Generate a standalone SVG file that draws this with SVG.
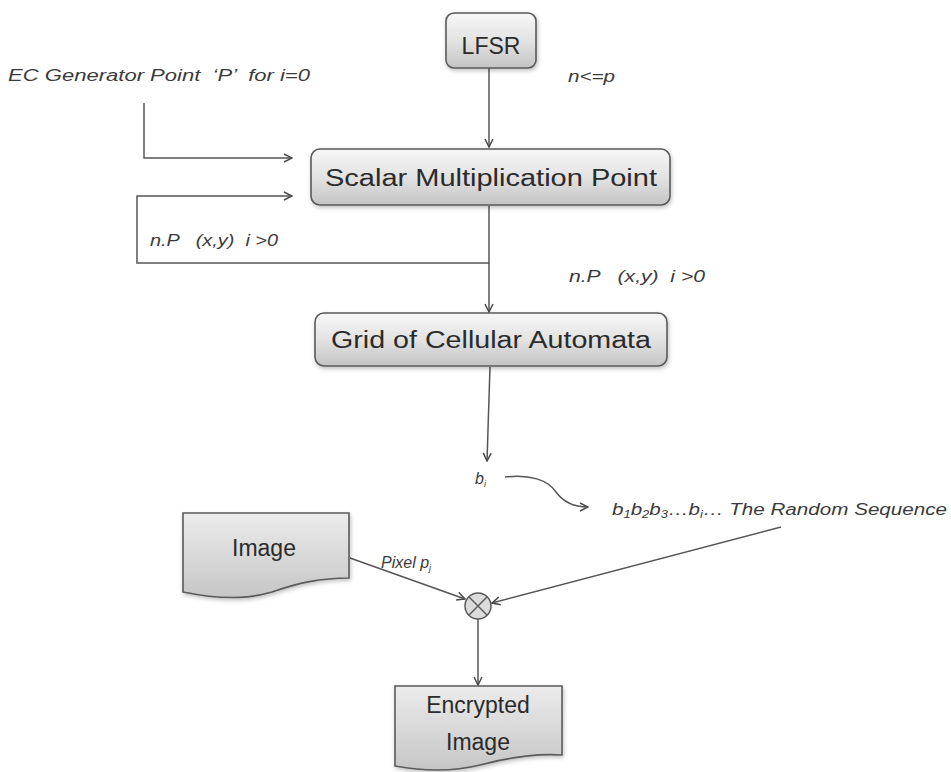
<svg xmlns="http://www.w3.org/2000/svg" width="951" height="772" viewBox="0 0 951 772">
  <defs>
    <linearGradient id="boxFill" x1="0" y1="0" x2="0" y2="1">
      <stop offset="0" stop-color="#f7f7f7"/>
      <stop offset="0.5" stop-color="#e3e3e3"/>
      <stop offset="1" stop-color="#c4c4c4"/>
    </linearGradient>
    <linearGradient id="docFill" x1="0" y1="0" x2="0" y2="1">
      <stop offset="0" stop-color="#ececec"/>
      <stop offset="1" stop-color="#c6c6c6"/>
    </linearGradient>
    <filter id="shadow" x="-10%" y="-20%" width="120%" height="150%">
      <feDropShadow dx="1" dy="2" stdDeviation="2" flood-color="#000" flood-opacity="0.25"/>
    </filter>
    <marker id="arrow" viewBox="0 0 10 10" refX="9" refY="5" markerWidth="10" markerHeight="10" markerUnits="userSpaceOnUse" orient="auto">
      <path d="M1,1 L9,5 L1,9" fill="none" stroke="#4a4a4a" stroke-width="1.5"/>
    </marker>
  </defs>
  <style>
    .box { fill: url(#boxFill); stroke: #5a5a5a; stroke-width: 1.6; filter: url(#shadow); }
    .doc { fill: url(#docFill); stroke: #5a5a5a; stroke-width: 1.6; filter: url(#shadow); }
    .node-text { font-family: "Liberation Sans", "Open Sans", sans-serif; font-size: 23px; fill: #2b2b2b; text-anchor: middle; }
    .label { font-family: "Liberation Sans", "Open Sans", sans-serif; font-style: italic; font-size: 16px; fill: #3a3a3a; white-space: pre; }
    .wire { fill: none; stroke: #555; stroke-width: 1.5; }
  </style>

  <rect width="951" height="772" fill="#ffffff"/>

  <!-- connectors -->
  <g id="connectors">
    <path class="wire" d="M489,68 V147" marker-end="url(#arrow)"/>
    <path class="wire" d="M144,103 V158 H292" marker-end="url(#arrow)"/>
    <path class="wire" d="M489,263 H137 V196 H292" marker-end="url(#arrow)"/>
    <path class="wire" d="M489,206 V312" marker-end="url(#arrow)"/>
    <path class="wire" d="M490,367 L487,461" marker-end="url(#arrow)"/>
    <path class="wire" d="M505,477 C530,474 548,480 556,492 C564,503 574,507 588,507" marker-end="url(#arrow)"/>
    <path class="wire" d="M350,558 L465,599" marker-end="url(#arrow)"/>
    <path class="wire" d="M781,527 L492,603" marker-end="url(#arrow)"/>
    <path class="wire" d="M478,619 V685" marker-end="url(#arrow)"/>
  </g>

  <!-- free labels -->
  <g id="labels">
    <text class="label" x="8" y="81" font-size="18" textLength="302" lengthAdjust="spacingAndGlyphs">EC Generator Point  ‘P’  for i=0</text>
    <text class="label" x="568" y="82" font-size="17" textLength="47" lengthAdjust="spacingAndGlyphs">n&lt;=p</text>
    <text class="label" x="150" y="246" font-size="15" textLength="128" lengthAdjust="spacingAndGlyphs">n.P   (x,y)  i &gt;0</text>
    <text class="label" x="569" y="282" font-size="15" textLength="136" lengthAdjust="spacingAndGlyphs">n.P   (x,y)  i &gt;0</text>
    <text class="label" x="475" y="484" font-size="17">b<tspan font-size="9" dy="3">i</tspan></text>
    <text class="label" x="612" y="515" font-size="18" textLength="335" lengthAdjust="spacingAndGlyphs">b<tspan font-size="10" dy="3">1</tspan><tspan dy="-3">b</tspan><tspan font-size="10" dy="3">2</tspan><tspan dy="-3">b</tspan><tspan font-size="10" dy="3">3</tspan><tspan dy="-3">…b</tspan><tspan font-size="10" dy="3">i</tspan><tspan dy="-3">… The Random Sequence</tspan></text>
    <text class="label" x="381" y="568" font-size="15">Pixel p<tspan font-size="9" dy="3">j</tspan></text>
  </g>

  <!-- nodes -->
  <g id="lfsr">
    <rect class="box" x="446" y="13" width="90" height="55" rx="8"/>
    <text class="node-text" x="491" y="54" font-size="25">LFSR</text>
  </g>

  <g id="scalar-mult">
    <rect class="box" x="311" y="149" width="359" height="56" rx="9"/>
    <text class="node-text" x="491" y="186" textLength="332" lengthAdjust="spacingAndGlyphs">Scalar Multiplication Point</text>
  </g>

  <g id="cellular-grid">
    <rect class="box" x="315" y="313" width="352" height="53" rx="9"/>
    <text class="node-text" x="491" y="348" textLength="320" lengthAdjust="spacingAndGlyphs">Grid of Cellular Automata</text>
  </g>

  <g id="image">
    <path class="doc" d="M183,513 H349 V578 C320,578 298,583 272,592 C243,601 212,598 183,592 Z"/>
    <text class="node-text" x="264" y="556">Image</text>
  </g>

  <g id="xor">
    <circle cx="478" cy="606" r="13" fill="#dcdcdc" stroke="#5a5a5a" stroke-width="1.5"/>
    <path d="M468.8,596.8 L487.2,615.2 M487.2,596.8 L468.8,615.2" stroke="#5a5a5a" stroke-width="1.4"/>
  </g>

  <g id="encrypted-image">
    <path class="doc" d="M395,686 H562 V755 C532,753 506,758 480,765 C452,772 422,771 395,766 Z"/>
    <text class="node-text" x="478" y="713">Encrypted</text>
    <text class="node-text" x="478" y="750">Image</text>
  </g>
</svg>
